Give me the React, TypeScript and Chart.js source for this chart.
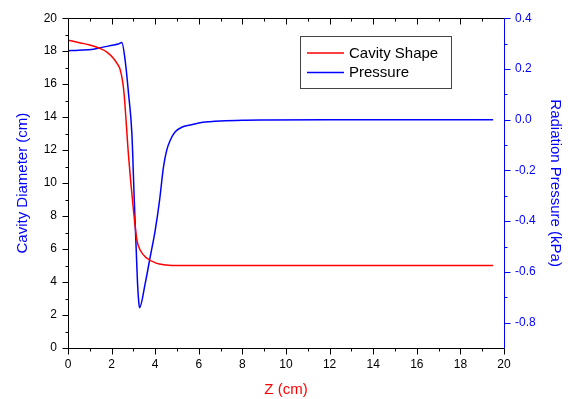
import React, { useEffect, useRef } from "react";
import { Chart, registerables } from "chart.js";
Chart.register(...registerables);

// ---- data ----
const cavityZ = [0, 0.57, 1, 1.48, 1.8, 2.09, 2.3, 2.4, 2.52, 2.58, 2.78, 3.0, 3.16, 3.31, 3.62, 4.08, 4.38, 4.8, 6, 10, 15, 19.5];
const cavityDiameter = [18.67, 18.5, 18.38, 18.16, 17.93, 17.56, 17.15, 16.85, 16.04, 15.3, 11.6, 8.4, 6.55, 5.94, 5.44, 5.13, 5.05, 5.0, 5.0, 5.0, 5.0, 5.0];

const pressureZ = [0, 0.5, 1.17, 1.56, 2.09, 2.3, 2.47, 2.62, 2.78, 2.93, 3.04, 3.13, 3.19, 3.24, 3.28, 3.54, 3.77, 4.0, 4.2, 4.38, 4.53, 4.69, 4.92, 5.22, 5.6, 6.0, 6.5, 7, 8, 9, 12, 16, 19.5];
const pressureKPa = [0.272, 0.274, 0.278, 0.285, 0.294, 0.298, 0.304, 0.235, 0.1, -0.054, -0.318, -0.515, -0.646, -0.713, -0.741, -0.646, -0.541, -0.436, -0.318, -0.186, -0.12, -0.081, -0.048, -0.03, -0.021, -0.013, -0.008, -0.005, -0.002, -0.001, 0, 0, 0];

const xTickValues = [0, 2, 4, 6, 8, 10, 12, 14, 16, 18, 20];
const leftTickValues = [0, 2, 4, 6, 8, 10, 12, 14, 16, 18, 20];
const rightTickValues = [-0.8, -0.6, -0.4, -0.2, 0.0, 0.2, 0.4];

const legendLabels = ["Cavity Shape", "Pressure"];

const RED = "#ff0000";
const BLUE = "#0000ff";
const FONT = "'Liberation Sans', Arial, Helvetica, sans-serif";

const framePlugin = {
  id: "frameTicks",
  afterDraw(chart: any) {
    const ctx = chart.ctx;
    const { left, right, top, bottom } = chart.chartArea;
    const xs = chart.scales.x;
    const yl = chart.scales.y;
    const yr = chart.scales.y1;
    ctx.save();
    ctx.lineWidth = 1;
    const line = (x1: number, y1: number, x2: number, y2: number) => {
      ctx.beginPath();
      ctx.moveTo(x1, y1);
      ctx.lineTo(x2, y2);
      ctx.stroke();
    };
    const L = Math.round(left) + 0.5;
    const R = Math.round(right) + 0.5;
    const T = Math.round(top) + 0.5;
    const B = Math.round(bottom) + 0.5;
    ctx.strokeStyle = "#000";
    line(L, T, R, T);
    line(L, T, L, B);
    line(L, B, R, B);
    // x ticks
    for (let v = 0; v <= 20; v++) {
      const px = Math.round(xs.getPixelForValue(v)) + 0.5;
      const len = v % 2 === 0 ? 6 : 3;
      line(px, B, px, B + len);
      if (v > 0 && v < 20) line(px, T, px, T + len);
    }
    // left ticks
    for (let v = 0; v <= 20; v++) {
      const py = Math.round(yl.getPixelForValue(v)) + 0.5;
      const len = v % 2 === 0 ? 6 : 3;
      line(L - len, py, L, py);
    }
    // right axis (blue)
    ctx.strokeStyle = BLUE;
    line(R, T, R, B);
    for (let i = -8; i <= 4; i++) {
      const v = i / 10;
      const py = Math.round(yr.getPixelForValue(v)) + 0.5;
      const len = i % 2 === 0 ? 6 : 3;
      line(R, py, R + len, py);
    }
    // legend
    const bx = 300.5, by = 36.5, bw = 151, bh = 52;
    ctx.strokeStyle = "#444";
    ctx.lineWidth = 1;
    ctx.strokeRect(bx, by, bw, bh);
    const colors = [RED, BLUE];
    const rows = [53, 72.5];
    ctx.font = `15px ${FONT}`;
    ctx.textBaseline = "middle";
    ctx.textAlign = "left";
    legendLabels.forEach((lab, i) => {
      ctx.strokeStyle = colors[i];
      ctx.lineWidth = 1.5;
      line(307, rows[i], 344, rows[i]);
      ctx.fillStyle = "#000";
      ctx.fillText(lab, 349, rows[i] + 0.5);
    });
    ctx.restore();
  },
};

export default function App() {
  const ref = useRef<HTMLCanvasElement | null>(null);
  useEffect(() => {
    document.body.style.margin = "0";
    const canvas = ref.current;
    if (!canvas) return;
    const chart = new Chart(canvas, {
      type: "line",
      data: {
        datasets: [
          {
            label: legendLabels[0],
            data: cavityZ.map((z, i) => ({ x: z, y: cavityDiameter[i] })),
            borderColor: RED,
            borderWidth: 1.5,
            pointRadius: 0,
            cubicInterpolationMode: "monotone",
            yAxisID: "y",
          },
          {
            label: legendLabels[1],
            data: pressureZ.map((z, i) => ({ x: z, y: pressureKPa[i] })),
            borderColor: BLUE,
            borderWidth: 1.5,
            pointRadius: 0,
            cubicInterpolationMode: "monotone",
            yAxisID: "y1",
          },
        ],
      },
      options: {
        responsive: false,
        animation: false,
        layout: { padding: { top: 18, left: 0, right: 0, bottom: 0 } },
        plugins: { legend: { display: false }, tooltip: { enabled: false } },
        scales: {
          x: {
            type: "linear",
            min: 0,
            max: 20,
            afterBuildTicks: (s: any) => {
              s.ticks = xTickValues.map((v) => ({ value: v }));
            },
            afterFit: (s: any) => {
              s.height = 51;
            },
            grid: { display: false, drawTicks: false },
            border: { display: false },
            ticks: {
              padding: 9,
              color: "#000",
              font: { family: FONT, size: 12 },
              maxRotation: 0,
              callback: (v: any) => String(v),
            },
            title: {
              display: true,
              text: "Z (cm)",
              color: RED,
              font: { family: FONT, size: 15 },
              padding: { top: 0, bottom: 0 },
            },
          },
          y: {
            type: "linear",
            position: "left",
            min: 0,
            max: 20,
            afterBuildTicks: (s: any) => {
              s.ticks = leftTickValues.map((v) => ({ value: v }));
            },
            afterFit: (s: any) => {
              s.width = 68;
            },
            grid: { display: false, drawTicks: false },
            border: { display: false },
            ticks: {
              padding: 11,
              color: "#000",
              font: { family: FONT, size: 12 },
              callback: (v: any) => String(v),
            },
            title: {
              display: true,
              text: "Cavity Diameter (cm)",
              color: BLUE,
              font: { family: FONT, size: 15 },
              padding: { top: 14, bottom: 0 },
            },
          },
          y1: {
            type: "linear",
            position: "right",
            min: -0.9,
            max: 0.4,
            afterBuildTicks: (s: any) => {
              s.ticks = rightTickValues.map((v) => ({ value: v }));
            },
            afterFit: (s: any) => {
              s.width = 64;
            },
            grid: { display: false, drawTicks: false },
            border: { display: false },
            ticks: {
              padding: 11,
              color: BLUE,
              font: { family: FONT, size: 12 },
              callback: (v: any) => Number(v).toFixed(1),
            },
            title: {
              display: true,
              text: "Radiation Pressure (kPa)",
              color: BLUE,
              font: { family: FONT, size: 15 },
              padding: { top: 4, bottom: 0 },
            },
          },
        },
      },
      plugins: [framePlugin],
    } as any);
    return () => chart.destroy();
  }, []);
  return (
    <div style={{ width: 568, height: 399, background: "#fff" }}>
      <canvas ref={ref} width={568} height={399} style={{ display: "block" }} />
    </div>
  );
}
